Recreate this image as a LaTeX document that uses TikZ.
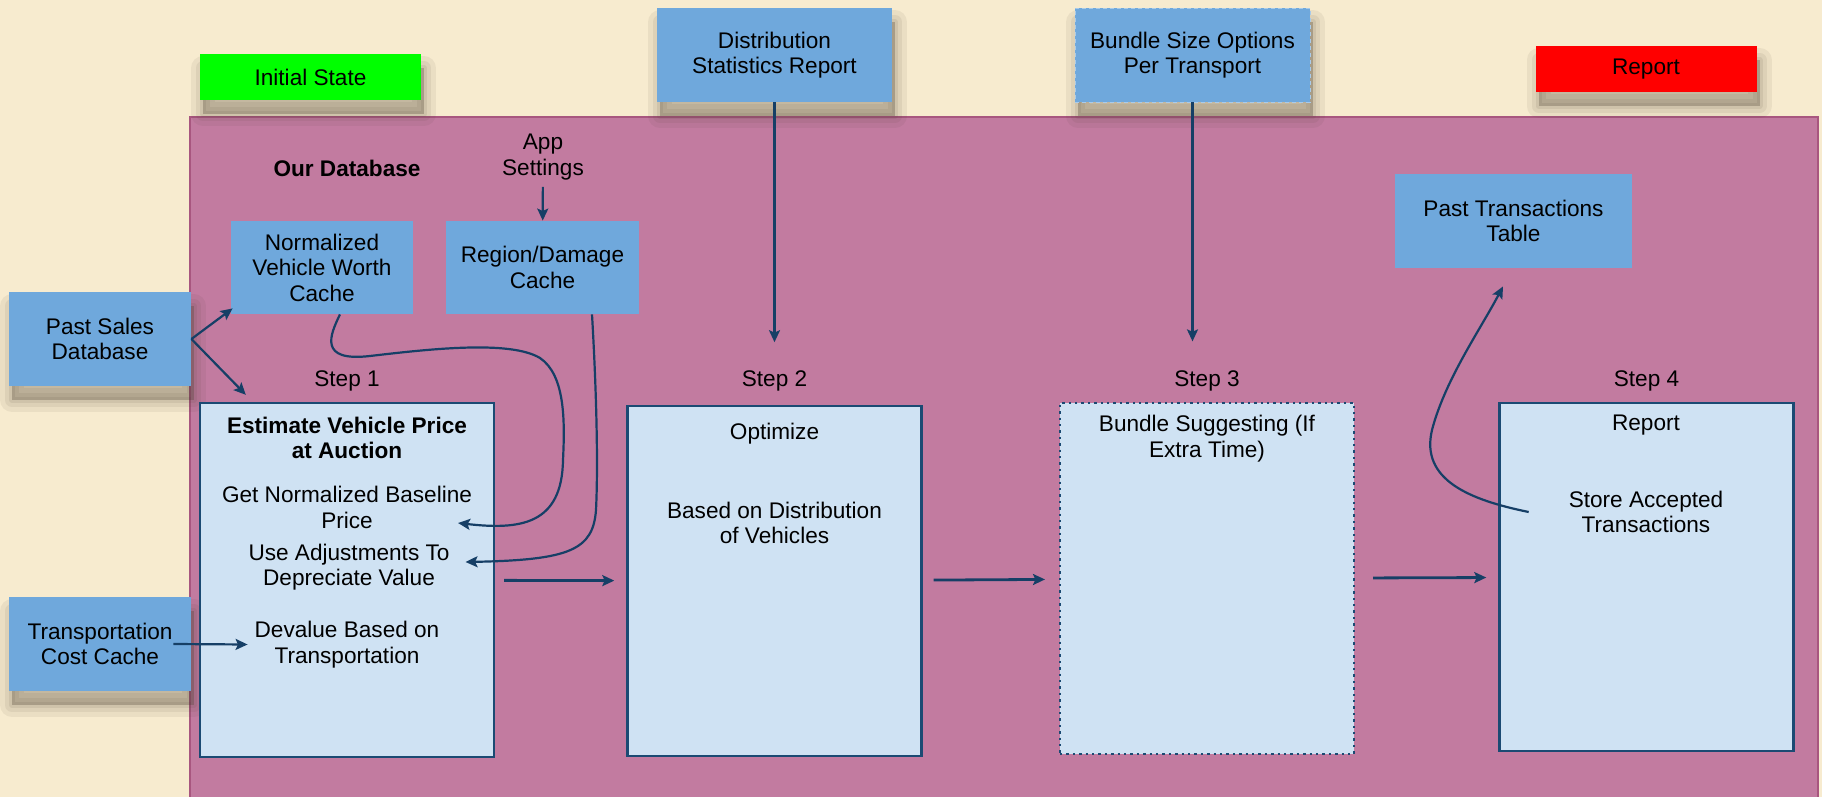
\documentclass[tikz,border=0pt]{standalone}
\usepackage{fontspec}
\setmainfont{Liberation Sans}
\usetikzlibrary{arrows.meta,positioning}
\definecolor{parch}{HTML}{F7EBCF}
\definecolor{panel}{HTML}{C27BA0}
\definecolor{panelline}{HTML}{A8567F}
\definecolor{boxblue}{HTML}{6FA8DC}
\definecolor{stepfill}{HTML}{CFE2F3}
\definecolor{navy}{HTML}{1B4A73}
\definecolor{arrowc}{HTML}{163F66}
\definecolor{shadowc}{HTML}{4A4030}

\begin{document}
\begin{tikzpicture}[
  x=0.5pt, y=-0.5pt,
  font=\fontsize{11.3}{12.75}\selectfont,
  drop/.style={
    preaction={fill=shadowc,draw=shadowc,solid,opacity=.07,line width=12pt,line join=round,transform canvas={xshift=1.5pt,yshift=-7pt}},
    preaction={fill=shadowc,draw=shadowc,solid,opacity=.08,line width=7pt,line join=round,transform canvas={xshift=1.5pt,yshift=-7pt}},
    preaction={fill=shadowc,draw=shadowc,solid,opacity=.09,line width=3pt,line join=round,transform canvas={xshift=1.5pt,yshift=-7pt}},
    preaction={fill=shadowc,solid,opacity=.08,transform canvas={xshift=1.5pt,yshift=-7pt}}},
  src/.style={fill=boxblue,align=center,minimum width=91pt,minimum height=47pt,inner sep=2pt},
  tag/.style={minimum width=110.5pt,minimum height=23pt,drop},
  stepbox/.style={draw=navy,fill=stepfill,line width=1.2pt,minimum width=147pt},
  lbl/.style={align=center},
  boldtxt/.style={align=center,font=\fontsize{11.3}{12.75}\selectfont\bfseries},
  arr/.style={-{Stealth[length=6pt,width=5.5pt,inset=1.2pt]},draw=arrowc,line width=1.1pt},
  flow/.style={arr,line width=1.4pt}
]
\useasboundingbox (0,0) rectangle (1822,797);
\clip (0,0) rectangle (1822,797);
\fill[parch] (0,0) rectangle (1822,797);
\filldraw[fill=panel,draw=panelline,line width=1pt] (190,117) rectangle (1818,830);

\node[tag,fill=green] (ini) at (310.5,77) {Initial State};
\node[tag,fill=red] (rep) at (1646,69) {Report};
\node[src,drop,minimum width=117.5pt] (dsr) at (774.5,55) {Distribution\\Statistics Report};
\node[src,drop,minimum width=117.5pt,draw=boxblue!60!white,dash pattern=on 2pt off 1.5pt] (bso) at (1192.5,55) {Bundle Size Options\\Per Transport};
\node[src,drop] (psd) at (100,339) {Past Sales\\Database};
\node[src,drop] (tcc) at (100,644) {Transportation\\Cost Cache};
\node[src,minimum height=46.5pt] (nvw) at (322,267.5) {Normalized\\Vehicle Worth\\Cache};
\node[src,minimum width=96.5pt,minimum height=46.5pt] (rdc) at (542.5,267.5) {Region/Damage\\Cache};
\node[src,minimum width=118.5pt] (ptt) at (1513.5,221) {Past Transactions\\Table};
\node[boldtxt] (odb) at (347,168) {Our Database};
\node[lbl] (app) at (543,157) {App\\Settings};

\node[stepbox,minimum height=177pt] (s1) at (347,580) {};
\node[stepbox,minimum height=175pt] (s2) at (774.5,581) {};
\node[stepbox,minimum height=175.5pt,dotted,line width=1pt] (s3) at (1207,578.5) {};
\node[stepbox,minimum height=174pt] (s4) at (1646.5,577) {};
\node[above=2pt of s1] (st1) {Step 1};
\node[above=3.5pt of s2] (st2) {Step 2};
\node[above=2pt of s3] (st3) {Step 3};
\node[above=2pt of s4] (st4) {Step 4};

\node[boldtxt] (est) at (347,438) {Estimate Vehicle Price\\at Auction};
\node[lbl] (getp) at (347,507.5) {Get Normalized Baseline\\Price};
\node[lbl] (adj) at (349,567) {Use Adjustments To\\Depreciate Value};
\node[lbl] (dev) at (347,644.5) {Devalue Based on\\Transportation};
\node (opt) at (774.5,434) {Optimize};
\node[lbl] (bod) at (774.5,523) {Based on Distribution\\of Vehicles};
\node[lbl] (bsg) at (1207,438.5) {Bundle Suggesting (If\\Extra Time)};
\node (rpt) at (1646,425) {Report};
\node[lbl] (sat) at (1646,512) {Store Accepted\\Transactions};

\draw[arr] (psd.east) -- ([shift={(2,-6)}]nvw.south west);
\draw[arr] (psd.east) -- ([shift={(47,-7)}]s1.north west);
\draw[arr] ([xshift=-9pt]tcc.east) -- (dev.west);
\draw[arr] (app) -- (rdc);
\draw[arr,shorten >=10.5pt] (dsr.south) -- (dsr.south |- st2.north);
\draw[arr,shorten >=11pt] (bso.south) -- (bso.south |- st3.north);
\draw[arr] ([xshift=9pt]nvw.south) .. controls (330,335) and (318,362) .. (370,356)
  .. controls (430,349) and (510,340) .. (540,358)
  .. controls (565,375) and (565,420) .. (563,460)
  .. controls (562,525) and (520,530) .. ([shift={(-21,15.5)}]getp.east);
\draw[arr] ([xshift=24.75pt]rdc.south) .. controls (597,400) and (598,470) .. (596,510)
  .. controls (593,550) and (570,560) .. ([shift={(9,-5)}]adj.east);
\draw[arr] ([xshift=-16.5pt]sat.west) .. controls (1470,500) and (1420,480) .. (1432,430)
  .. controls (1445,380) and (1480,330) .. ([shift={(-10.5,18)}]ptt.south);
\draw[flow,shorten <=4.5pt,shorten >=6pt] (s1) -- (s2);
\draw[flow,shorten <=5.5pt,shorten >=7pt] (s2) -- (s3);
\draw[flow,shorten <=9pt,shorten >=6pt] (s3) -- (s4);
\end{tikzpicture}
\end{document}
